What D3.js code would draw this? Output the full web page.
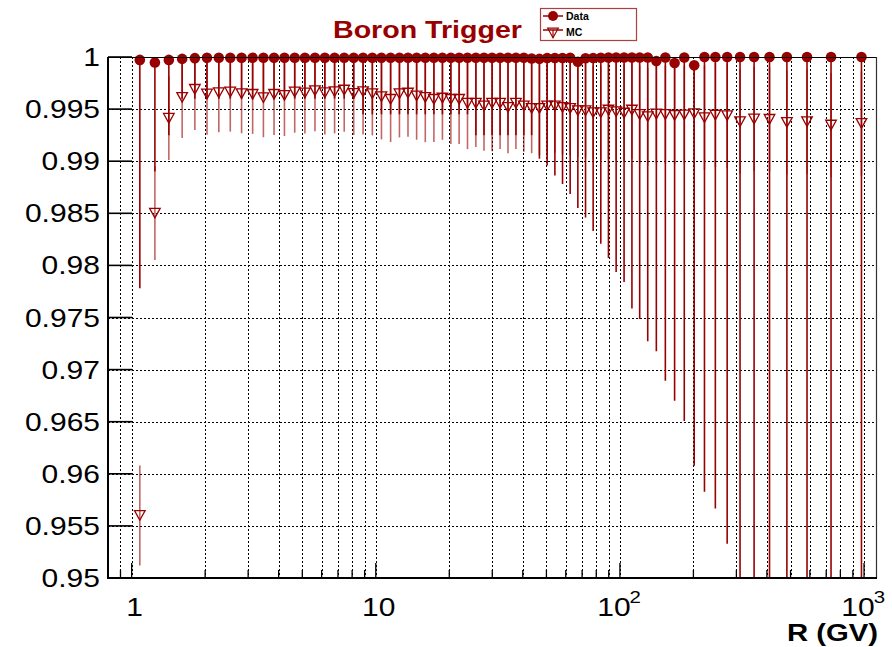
<!DOCTYPE html>
<html>
<head>
<meta charset="utf-8">
<script src="https://cdn.jsdelivr.net/npm/d3@7"></script>
<style>
  html, body { margin: 0; padding: 0; background: #fff; }
  svg { display: block; font-family: "Liberation Sans", Arial, sans-serif; }
</style>
</head>
<body>
<svg id="chart" width="892" height="647"></svg>
<script>
// ---------------- DATA ----------------
const titleText = "Boron Trigger";
const xTitle = "R (GV)";
const legendLabels = ["Data", "MC"];

// Rigidity bin centres (GV)
const rigidity = [1.08, 1.245, 1.42, 1.61, 1.815, 2.035, 2.275, 2.535, 2.82, 3.13,
  3.465, 3.83, 4.225, 4.655, 5.125, 5.635, 6.185, 6.78, 7.425, 8.12,
  8.87, 9.68, 10.55, 11.5, 12.5, 13.55, 14.7, 15.95, 17.3, 18.75,
  20.3, 21.95, 23.75, 25.7, 27.75, 29.95, 32.3, 34.8, 37.5, 40.4,
  43.5, 46.8, 50.35, 54.15, 58.2, 62.55, 67.25, 72.3, 77.7, 83.5,
  89.75, 96.5, 104, 112, 120.5, 130, 141, 153.5, 167.5, 183.5,
  201.5, 222, 246, 275, 310.5, 354.5, 410, 483, 584, 732.5, 976];

// Data trigger efficiency
const dataEff = [0.99972, 0.99948, 0.99972, 0.99982, 0.99989, 0.99993, 0.99993, 0.99993, 0.99993, 0.99993,
  0.99993, 0.99993, 0.99993, 0.99993, 0.99993, 0.99993, 0.99993, 0.99993, 0.99993, 0.99993,
  0.99993, 0.99993, 0.99993, 0.99993, 0.99993, 0.99993, 0.99993, 0.99993, 0.99993, 0.99993,
  0.99993, 0.99993, 0.99993, 0.99993, 0.99993, 0.99993, 0.99993, 0.99993, 0.99993, 0.99993,
  0.99985, 0.99982, 0.9999, 0.9999, 0.9999, 0.99992, 0.99955, 0.99988, 0.9999, 0.99993,
  0.99995, 0.99995, 0.99995, 0.99995, 0.99995, 0.99995, 0.99962, 0.99995, 0.99943, 0.99995,
  0.9992, 1.0, 1.0, 1.0, 1.0, 1.0, 1.0, 1.0, 1.0, 1.0, 1.0];

// Data lower edge of error bar
const dataLow = [0.9778, 0.989, 0.9925, 0.996, 0.996, 0.996, 0.996, 0.996, 0.996, 0.996,
  0.996, 0.996, 0.996, 0.996, 0.996, 0.996, 0.996, 0.996, 0.996, 0.996,
  0.9945, 0.9945, 0.9945, 0.9945, 0.9945, 0.9945, 0.9945, 0.9945, 0.9945, 0.9945,
  0.9945, 0.9945, 0.9945, 0.9925, 0.9925, 0.9925, 0.9925, 0.9925, 0.9925, 0.9925,
  0.9925, 0.99024, 0.98959, 0.98862, 0.98781, 0.98685, 0.9855, 0.98459, 0.9833, 0.98208,
  0.98071, 0.97936, 0.9784, 0.97587, 0.97485, 0.97271, 0.97175, 0.96894, 0.967, 0.96506,
  0.96077, 0.95828, 0.95667, 0.95328, 0.94, 0.935, 0.93, 0.92, 0.91, 0.89, 0.86];

// MC trigger efficiency
const mcEff = [0.956, 0.98502, 0.99412, 0.99613, 0.9969, 0.99645, 0.99657, 0.99664, 0.99648, 0.99642,
  0.9961, 0.99642, 0.99632, 0.99664, 0.99655, 0.99677, 0.99657, 0.99667, 0.99683, 0.99651,
  0.99667, 0.99648, 0.99619, 0.99594, 0.99648, 0.99654, 0.99626, 0.99613, 0.99594, 0.99606,
  0.99594, 0.99594, 0.99556, 0.99556, 0.9953, 0.99556, 0.99556, 0.99517, 0.99556, 0.9953,
  0.99507, 0.99507, 0.9953, 0.9953, 0.99517, 0.99507, 0.99485, 0.99485, 0.99466, 0.99466,
  0.99491, 0.99475, 0.99462, 0.99491, 0.99448, 0.99427, 0.99453, 0.99448, 0.9944, 0.99445,
  0.99456, 0.99418, 0.99443, 0.99437, 0.99379, 0.99405, 0.99402, 0.99373, 0.99379, 0.99347, 0.99363];

// MC symmetric error
const mcErr = [0.0048, 0.0045, 0.004, 0.0039, 0.0039, 0.0039, 0.0038, 0.0038, 0.0038, 0.0038,
  0.0038, 0.0039, 0.0039, 0.0039, 0.0039, 0.0039, 0.004, 0.004, 0.004, 0.004,
  0.0041, 0.004, 0.0041, 0.0041, 0.0042, 0.0042, 0.0042, 0.0043, 0.0041, 0.004,
  0.0043, 0.0043, 0.0044, 0.0042, 0.0043, 0.0046, 0.0044, 0.0044, 0.0044, 0.0044,
  0.0043, 0.0045, 0.0045, 0.0045, 0.0045, 0.0045, 0.0045, 0.0045, 0.0045, 0.0045,
  0.0047, 0.0047, 0.0047, 0.0047, 0.0047, 0.0047, 0.0047, 0.0047, 0.0047, 0.0047,
  0.005, 0.005, 0.005, 0.005, 0.005, 0.005, 0.005, 0.005, 0.005, 0.005, 0.005];

const yTicks = [0.95, 0.955, 0.96, 0.965, 0.97, 0.975, 0.98, 0.985, 0.99, 0.995, 1];
const yTickLabels = ["0.95", "0.955", "0.96", "0.965", "0.97", "0.975", "0.98", "0.985", "0.99", "0.995", "1"];
const xMajor = [1, 10, 100, 1000];
const xMajorLabels = [["1", ""], ["10", ""], ["10", "2"], ["10", "3"]];

// ---------------- DRAWING ----------------
const RED = "#990000";
const svg = d3.select("#chart");
const L = 108, R = 877, T = 57, B = 578;
const x = d3.scaleLog().domain([0.8, 1130]).range([L, R]);
const y = d3.scaleLinear().domain([0.95, 1]).range([B, T]);

svg.append("rect").attr("width", 892).attr("height", 647).attr("fill", "#fff");

svg.append("defs").append("clipPath").attr("id", "frame")
  .append("rect").attr("x", L).attr("y", T).attr("width", R - L).attr("height", B - T);

// log ticks (1..9 x each decade)
const allXTicks = [];
[0.1, 1, 10, 100].forEach(dec => {
  for (let k = 1; k <= 9; k++) allXTicks.push(+(k * dec).toPrecision(3));
});
allXTicks.push(1000);
const xTicks = allXTicks.filter(v => v >= 0.85 && v <= 1130);

// grid
const grid = svg.append("g").attr("stroke", "#000").attr("stroke-width", 1)
  .attr("stroke-dasharray", "1.5,2.5").attr("shape-rendering", "crispEdges");
grid.selectAll("line.gy").data(yTicks.filter(v => v > 0.95 && v < 1)).enter().append("line")
  .attr("x1", L).attr("x2", R).attr("y1", d => Math.round(y(d)) + 0.5).attr("y2", d => Math.round(y(d)) + 0.5);
grid.selectAll("line.gx").data(xTicks).enter().append("line")
  .attr("y1", T).attr("y2", B).attr("x1", d => Math.round(x(d)) + 0.5).attr("x2", d => Math.round(x(d)) + 0.5);

// Error bars
const idx = d3.range(rigidity.length);
const plot = svg.append("g").attr("clip-path", "url(#frame)");
plot.selectAll("line.derr").data(idx).enter().append("line")
  .attr("x1", i => x(rigidity[i])).attr("x2", i => x(rigidity[i]))
  .attr("y1", i => y(dataEff[i])).attr("y2", i => y(dataLow[i]))
  .attr("stroke", RED).attr("stroke-width", 1.6);
plot.selectAll("line.merr").data(idx).enter().append("line")
  .attr("x1", i => x(rigidity[i])).attr("x2", i => x(rigidity[i]))
  .attr("y1", i => y(mcEff[i] + mcErr[i])).attr("y2", i => y(mcEff[i] - mcErr[i]))
  .attr("stroke", RED).attr("stroke-opacity", 0.6).attr("stroke-width", 1.6);

// MC markers (open triangle down)
const tri = "M-5.3,-4.8 L5.3,-4.8 L0,4.8 Z";
svg.append("g").selectAll("path").data(idx).enter().append("path")
  .attr("d", tri)
  .attr("transform", i => `translate(${x(rigidity[i])},${y(mcEff[i])})`)
  .attr("fill", "none").attr("stroke", RED).attr("stroke-width", 1.3);

// Data markers
svg.append("g").selectAll("circle").data(idx).enter().append("circle")
  .attr("cx", i => x(rigidity[i])).attr("cy", i => y(dataEff[i])).attr("r", 5.3)
  .attr("fill", RED);

// Frame
svg.append("line").attr("x1", L).attr("x2", R).attr("y1", T + 0.5).attr("y2", T + 0.5).attr("stroke", "#000").attr("stroke-width", 1.2);
svg.append("line").attr("x1", R - 0.5).attr("x2", R - 0.5).attr("y1", T).attr("y2", B).attr("stroke", "#333").attr("stroke-width", 1.2);
svg.append("line").attr("x1", L).attr("x2", R).attr("y1", B).attr("y2", B).attr("stroke", "#000").attr("stroke-width", 2);
svg.append("line").attr("x1", L).attr("x2", L).attr("y1", T).attr("y2", B + 1).attr("stroke", "#000").attr("stroke-width", 2);

// y ticks
svg.append("g").selectAll("line").data(yTicks).enter().append("line")
  .attr("x1", L).attr("x2", L + 24).attr("y1", d => y(d)).attr("y2", d => y(d))
  .attr("stroke", "#000").attr("stroke-width", 1.6);
// x ticks
svg.append("g").selectAll("line").data(xTicks).enter().append("line")
  .attr("x1", d => x(d)).attr("x2", d => x(d)).attr("y1", B)
  .attr("y2", d => xMajor.includes(d) ? B - 15 : B - 8)
  .attr("stroke", "#000").attr("stroke-width", 1.3);

// y labels
svg.append("g").selectAll("text").data(yTicks).enter().append("text")
  .attr("transform", d => `translate(100,${y(d) + 9}) scale(1.2,1)`)
  .attr("text-anchor", "end").attr("font-size", 25).attr("fill", "#000")
  .text((d, i) => yTickLabels[i]);

// x labels
const xl = svg.append("g");
xMajor.forEach((v, i) => {
  const [base, sup] = xMajorLabels[i];
  const g = xl.append("g").attr("transform", `translate(${x(v) + (sup ? -6 : 3)},616) scale(1.2,1)`);
  g.append("text").attr("text-anchor", "middle").attr("font-size", 25).text(base);
  if (sup) g.append("text").attr("x", 13).attr("y", -13).attr("font-size", 17).text(sup);
});

// axis title
svg.append("text").attr("transform", "translate(878,641) scale(1.22,1)")
  .attr("text-anchor", "end").attr("font-size", 24).attr("font-weight", "bold").text(xTitle);

// title
svg.append("text").attr("x", 333).attr("y", 37.5).attr("font-size", 23.5).attr("font-weight", "bold")
  .attr("fill", RED).attr("textLength", 189).attr("lengthAdjust", "spacingAndGlyphs").text(titleText);

// legend
const lg = svg.append("g");
lg.append("rect").attr("x", 540.5).attr("y", 8.5).attr("width", 96).attr("height", 32)
  .attr("fill", "#fff").attr("stroke", "#b04040").attr("stroke-width", 1.2);
lg.append("line").attr("x1", 543).attr("x2", 563).attr("y1", 16).attr("y2", 16).attr("stroke", RED).attr("stroke-width", 1.5);
lg.append("circle").attr("cx", 553).attr("cy", 16).attr("r", 5).attr("fill", RED);
lg.append("line").attr("x1", 543).attr("x2", 563).attr("y1", 30).attr("y2", 30).attr("stroke", RED).attr("stroke-width", 1.5);
lg.append("line").attr("x1", 553).attr("x2", 553).attr("y1", 30).attr("y2", 38).attr("stroke", RED).attr("stroke-width", 1.2);
lg.append("path").attr("d", tri).attr("transform", "translate(553,33)").attr("fill", "none").attr("stroke", RED).attr("stroke-width", 1.2);
lg.append("text").attr("x", 566).attr("y", 20).attr("font-size", 10.5).attr("font-weight", "bold").text(legendLabels[0]);
lg.append("text").attr("x", 566).attr("y", 36).attr("font-size", 10.5).attr("font-weight", "bold").text(legendLabels[1]);
</script>
</body>
</html>
